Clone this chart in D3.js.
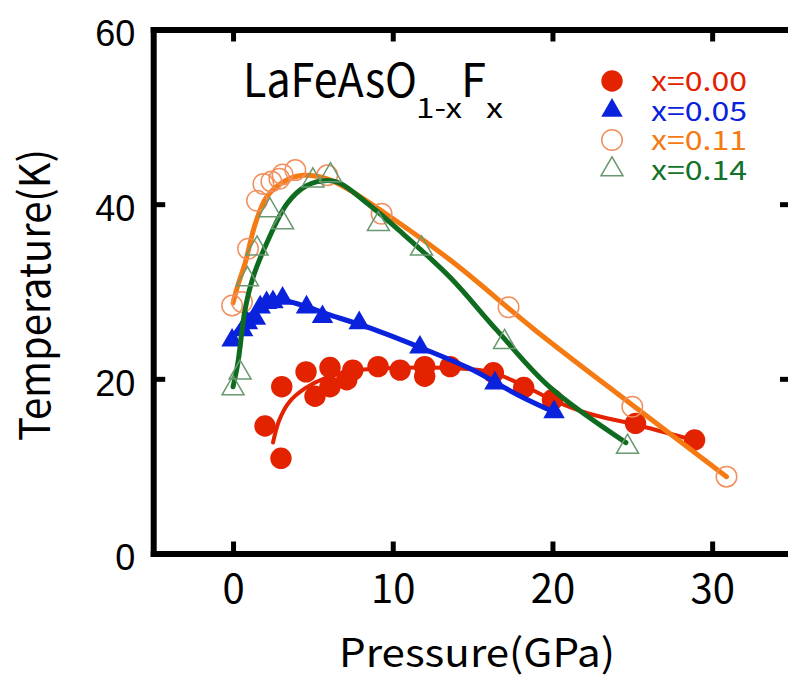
<!DOCTYPE html>
<html lang="en">
<head>
<meta charset="UTF-8">
<title>LaFeAsO1-xFx Tc vs pressure</title>
<script src="https://d3js.org/d3.v7.min.js"></script>
<style>
  body { margin: 0; background: #fff; }
  svg { display: block; }
  .gothic { font-family: "Noto Sans CJK JP", "DejaVu Sans", sans-serif; }
  .ylab { font-family: "Liberation Sans", Arial, sans-serif; }
</style>
</head>
<body>
<svg id="chart" width="788" height="679"></svg>
<script>
// axis ticks
const xTicks = [0, 10, 20, 30];
const yTicks = [0, 20, 40, 60];

// measured points, pressure (GPa) / Tc (K)
const p000 = [2.0, 3.0, 3.05, 4.57, 5.13, 6.07, 6.07, 7.12, 7.5, 9.08, 10.46, 12.0, 12.0, 13.6, 16.3, 18.2, 20.0, 25.2, 28.9];
const t000 = [14.6, 10.9, 19.1, 20.8, 18.0, 19.1, 21.3, 19.9, 21.0, 21.4, 21.0, 21.4, 20.3, 21.4, 20.7, 19.0, 17.6, 14.9, 13.0];

const p005 = [-0.06, 0.6, 0.9, 1.4, 1.7, 2.1, 2.5, 3.1, 4.6, 5.6, 7.9, 11.7, 16.4, 20.1];
const t005 = [24.4, 25.6, 26.4, 26.9, 28.2, 28.7, 28.8, 29.2, 28.2, 27.1, 26.4, 23.6, 19.5, 16.2];

const p011 = [-0.06, 0.56, 0.94, 1.5, 1.9, 2.4, 2.9, 3.1, 3.9, 5.9, 9.3, 17.25, 25.0, 30.9];
const t011 = [28.4, 28.8, 34.9, 40.4, 42.3, 42.6, 42.9, 43.4, 43.9, 43.3, 38.9, 28.2, 16.8, 8.8];

const p014 = [0, 0.44, 0.9, 1.5, 2.3, 3.1, 5.0, 6.1, 9.1, 11.8, 17.0, 24.7];
const t014 = [18.9, 20.7, 31.4, 34.9, 39.3, 37.9, 42.7, 43.3, 37.7, 34.9, 24.2, 12.2];

// guide-to-the-eye curves
const cp000 = [2.5, 2.9, 3.5, 4.5, 5.8, 7.5, 9.5, 12, 14, 16.1, 18, 20, 22.3, 25.1, 28.8];
const ct000 = [12.7, 15.3, 17.3, 18.9, 20.1, 20.9, 21.2, 21.3, 21.2, 20.8, 19.4, 17.6, 16.0, 14.8, 13.0];

const cp005 = [0, 0.75, 1.7, 2.9, 4.2, 6.1, 8.6, 11.7, 14.8, 17.9, 20.1];
const ct005 = [24.8, 26.7, 28.2, 29.0, 28.5, 27.3, 25.8, 23.6, 21.2, 18.1, 16.2];

const cp011 = [0, 0.3, 0.75, 1.4, 2.1, 3.1, 4.4, 5.9, 7.3, 9.4, 13.6, 18.9, 25.0, 30.9];
const ct011 = [28.7, 30.7, 33.2, 37.8, 40.8, 42.5, 43.3, 42.9, 41.6, 39.1, 33.6, 25.6, 17.0, 8.8];

const cp014 = [0, 0.3, 0.75, 1.25, 2.1, 3.4, 4.6, 5.9, 6.7, 8.4, 10.4, 13.6, 16.5, 19.8, 24.6];
const ct014 = [19.1, 21.8, 27.9, 31.6, 35.5, 40.1, 42.1, 42.7, 42.4, 40.1, 37.0, 31.6, 25.6, 19.1, 12.7];

const labels = ["x=0.00", "x=0.05", "x=0.11", "x=0.14"];

const zip = (a, b) => a.map((v, i) => [v, b[i]]);

const series = [
  {name: labels[0], pts: zip(p000, t000), curve: zip(cp000, ct000), line: "#e32200", text: "#e32200",
   shape: d3.symbolCircle, size: 360, fill: "#e32200", stroke: "none", sw: 0, lw: 4},
  {name: labels[1], pts: zip(p005, t005), curve: zip(cp005, ct005), line: "#0a22dc", text: "#0a22dc",
   shape: d3.symbolTriangle, size: 200, fill: "#0a22dc", stroke: "none", sw: 0, lw: 5},
  {name: labels[2], pts: zip(p011, t011), curve: zip(cp011, ct011), line: "#f57a12", text: "#f57a12",
   shape: d3.symbolCircle, size: 330, fill: "none", stroke: "#f1905e", sw: 1.5, lw: 5},
  {name: labels[3], pts: zip(p014, t014), curve: zip(cp014, ct014), line: "#0e6b1f", text: "#14722a",
   shape: d3.symbolTriangle, size: 210, fill: "none", stroke: "#6a9870", sw: 1.5, lw: 5}
];

const svg = d3.select("#chart");

const x = d3.scaleLinear().domain([-5, 35]).range([153.2, 792]);
const y = d3.scaleLinear().domain([0, 60]).range([553.5, 29.5]);

// curves and markers
const line = d3.line()
  .x(d => x(d[0]))
  .y(d => y(d[1]))
  .curve(d3.curveCatmullRom.alpha(0.5));

series.forEach(s => {
  svg.append("path")
    .datum(s.curve)
    .attr("d", line)
    .attr("fill", "none")
    .attr("stroke", s.line)
    .attr("stroke-width", s.lw)
    .attr("stroke-linecap", "round")
    .attr("stroke-linejoin", "round");

  svg.append("g")
    .selectAll("path")
    .data(s.pts)
    .join("path")
    .attr("transform", d => `translate(${x(d[0])},${y(d[1])})`)
    .attr("d", d3.symbol().type(s.shape).size(s.size))
    .attr("fill", s.fill)
    .attr("stroke", s.stroke)
    .attr("stroke-width", s.sw);
});

// frame with inward ticks
const styleAxis = g => {
  g.select(".domain").attr("stroke-width", 6).attr("stroke-linecap", "square");
  g.selectAll(".tick line").attr("stroke-width", 5);
};

svg.append("g")
  .attr("transform", `translate(0,${y(0)})`)
  .call(d3.axisBottom(x).tickValues(xTicks).tickSizeInner(-12).tickSizeOuter(0).tickPadding(21))
  .call(styleAxis)
  .call(g => g.selectAll(".tick text")
    .attr("class", "gothic")
    .attr("font-size", 40)
    .attr("fill", "#000"));

svg.append("g")
  .attr("transform", `translate(0,${y(60)})`)
  .call(d3.axisTop(x).tickValues(xTicks).tickSizeInner(-12).tickSizeOuter(0).tickFormat(""))
  .call(styleAxis);

svg.append("g")
  .attr("transform", `translate(${x(-5)},0)`)
  .call(d3.axisLeft(y).tickValues(yTicks).tickSizeInner(-12).tickSizeOuter(0).tickPadding(18))
  .call(styleAxis)
  .call(g => g.selectAll(".tick text")
    .attr("class", "ylab")
    .attr("font-size", 36)
    .attr("dy", "0.45em")
    .attr("fill", "#000"));

svg.append("g")
  .attr("transform", `translate(${x(35)},0)`)
  .call(d3.axisRight(y).tickValues(yTicks).tickSizeInner(-12).tickSizeOuter(0).tickFormat(""))
  .call(styleAxis);

// narrow gothic text helper
function gText(parent, str, px, py, size, len, color, anchor) {
  return parent.append("text")
    .attr("class", "gothic")
    .attr("x", px)
    .attr("y", py)
    .attr("font-size", size)
    .attr("fill", color || "#000")
    .attr("text-anchor", anchor || "start")
    .attr("textLength", len)
    .attr("lengthAdjust", "spacingAndGlyphs")
    .text(str);
}

// axis titles
gText(svg, "Pressure(GPa)", 477, 667, 39, 276, "#000", "middle");
gText(svg.append("g").attr("transform", "translate(50,295) rotate(-90)"),
  "Temperature(K)", 0, 0, 42, 292, "#000", "middle");

// compound name
gText(svg, "LaFeAsO", 243, 97, 47, 174);
gText(svg, "1-x", 416, 118, 28, 46);
gText(svg, "F", 461, 97, 47, 25);
gText(svg, "x", 486, 118, 28, 17);

// legend
const legend = svg.append("g");
series.forEach((s, i) => {
  const cy = 81 + i * 29.5;
  legend.append("path")
    .attr("transform", `translate(612,${cy})`)
    .attr("d", d3.symbol().type(s.shape).size(s.size))
    .attr("fill", s.fill)
    .attr("stroke", s.stroke)
    .attr("stroke-width", s.sw);
  gText(legend, s.name, 651, cy + 10, 27, 96, s.text);
});
</script>
</body>
</html>
